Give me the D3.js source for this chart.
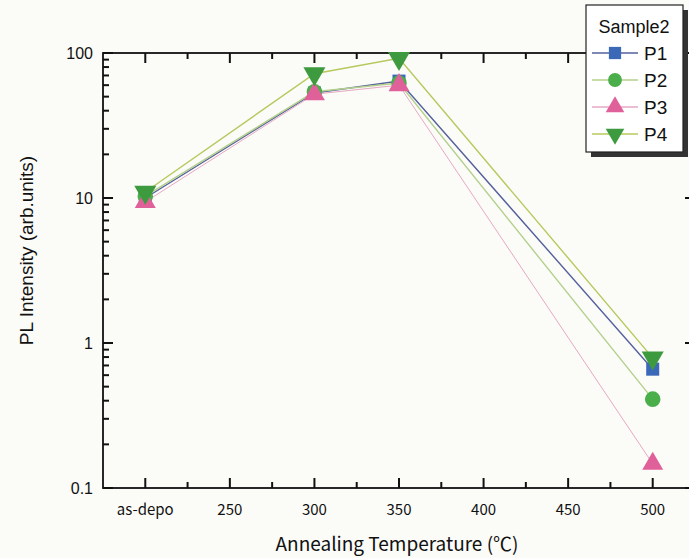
<!DOCTYPE html>
<html>
<head>
<meta charset="utf-8">
<script src="https://cdn.jsdelivr.net/npm/d3@7/dist/d3.min.js"></script>
<style>
  body { margin: 0; background: #fbfbf8; }
  svg { display: block; font-family: "Liberation Sans", Arial, sans-serif; }
</style>
</head>
<body>
<div id="chart"></div>
<script>
var W = 689, H = 558;
var margin = { top: 53, right: -6, bottom: 70, left: 103 };
var width = W - margin.left - margin.right;
var height = H - margin.top - margin.bottom;

// temperatures (as-depo drawn at 200)
var temps = [200, 300, 350, 500];
var xTickValues = [200, 250, 300, 350, 400, 450, 500];
var xTickLabels = ['as-depo', '250', '300', '350', '400', '450', '500'];
var xMinorValues = [225, 275, 325, 375, 425, 475];
var yTickValues = [0.1, 1, 10, 100];
var yMinorValues = [0.2, 0.3, 0.4, 0.5, 0.6, 0.7, 0.8, 0.9,
                    2, 3, 4, 5, 6, 7, 8, 9,
                    20, 30, 40, 50, 60, 70, 80, 90];

var seriesNames = ['P1', 'P2', 'P3', 'P4'];
var p1 = [10, 53, 64, 0.66];
var p2 = [10.3, 54, 62, 0.41];
var p3 = [9.4, 52, 60, 0.147];
var p4 = [11, 72, 92, 0.79];

var lineColors = ['#54609c', '#b4d08c', '#e6a8c4', '#b6c95c'];
var markColors = ['#3c68b8', '#4aae4a', '#e0609a', '#3e9a3e'];
var shapes = [d3.symbolSquare, d3.symbolCircle, d3.symbolTriangle, 'down'];

var root = d3.select('#chart')
  .append('svg')
    .attr('width', W)
    .attr('height', H);
var svg = root.append('g')
    .attr('transform', `translate(${margin.left}, ${margin.top})`);

var x = d3.scaleLinear().domain([175, 525]).range([0, width]);
var y = d3.scaleLog().domain([0.1, 100]).range([height, 0]);

var axisColor = '#111';

// inward ticks on all four sides
var ticks = [];
xTickValues.forEach(v => { ticks.push([x(v), height, x(v), height - 10]); ticks.push([x(v), 0, x(v), 10]); });
xMinorValues.forEach(v => { ticks.push([x(v), height, x(v), height - 6]); ticks.push([x(v), 0, x(v), 6]); });
yTickValues.forEach(v => { ticks.push([0, y(v), 10, y(v)]); ticks.push([width, y(v), width - 10, y(v)]); });
yMinorValues.forEach(v => { ticks.push([0, y(v), 6, y(v)]); ticks.push([width, y(v), width - 6, y(v)]); });

svg.selectAll('.tk').data(ticks).enter().append('line')
  .attr('class', 'tk')
  .attr('x1', d => d[0]).attr('y1', d => d[1])
  .attr('x2', d => d[2]).attr('y2', d => d[3])
  .style('stroke', '#111')
  .style('stroke-width', '2px');

// frame
svg.append('rect')
  .attr('width', width).attr('height', height)
  .attr('fill', 'none').attr('stroke', axisColor).attr('stroke-width', 1.8);

// tick labels
svg.selectAll('.xl').data(xTickValues).enter().append('text')
  .attr('class', 'xl')
  .attr('x', d => x(d)).attr('y', height + 27)
  .attr('text-anchor', 'middle').attr('font-size', 15).attr('fill', '#111')
  .attr('font-family', '"Noto Sans CJK JP", sans-serif')
  .text((d, i) => xTickLabels[i]);

svg.selectAll('.yl').data(yTickValues).enter().append('text')
  .attr('class', 'yl')
  .attr('x', -10).attr('y', d => y(d) + 6)
  .attr('text-anchor', 'end').attr('font-size', 16).attr('fill', '#111')
  .text(d => d);

// axis titles
svg.append('text')
  .attr('x', x(350) - 2).attr('y', height + 63)
  .attr('text-anchor', 'middle').attr('font-size', 19).attr('fill', '#111')
  .attr('font-family', '"Noto Sans CJK JP", sans-serif')
  .text('Annealing Temperature (℃)');

svg.append('text')
  .attr('transform', `translate(${-70}, ${height / 2 - 20}) rotate(-90)`)
  .attr('text-anchor', 'middle').attr('font-size', 19).attr('fill', '#111')
  .text('PL Intensity (arb.units)');

var allSeries = [p1, p2, p3, p4];

function symbolPath(i, size) {
  var t = shapes[i] === 'down' ? d3.symbolTriangle : shapes[i];
  return d3.symbol().type(t).size(size)();
}

var line = d3.line().x((d, i) => x(temps[i])).y(d => y(d));

allSeries.forEach(function (vals, i) {
  svg.append('path')
    .attr('d', line(vals))
    .attr('fill', 'none')
    .attr('stroke', lineColors[i])
    .attr('stroke-width', i === 2 ? 1 : 1.4);
});

var sizes = [170, 190, 190, 210];
allSeries.forEach(function (vals, i) {
  svg.selectAll('.m' + i).data(vals).enter().append('path')
    .attr('class', 'm' + i)
    .attr('d', symbolPath(i, sizes[i]))
    .attr('transform', (d, j) => `translate(${x(temps[j])}, ${y(d)})` + (shapes[i] === 'down' ? ' rotate(180)' : ''))
    .attr('fill', markColors[i]);
});

// legend
var lg = root.append('g').attr('transform', 'translate(586, 5)');
lg.append('rect').attr('x', 5).attr('y', 5).attr('width', 97).attr('height', 147).attr('fill', '#333');
lg.append('rect').attr('width', 97).attr('height', 147).attr('fill', '#fff').attr('stroke', '#222').attr('stroke-width', 1.2);
lg.append('text').attr('x', 48).attr('y', 28).attr('text-anchor', 'middle')
  .attr('font-size', 18).attr('fill', '#111').text('Sample2');
seriesNames.forEach(function (name, i) {
  var yy = 48 + i * 27;
  lg.append('line').attr('x1', 6).attr('x2', 52).attr('y1', yy).attr('y2', yy)
    .attr('stroke', lineColors[i]).attr('stroke-width', 1.4);
  lg.append('path').attr('d', symbolPath(i, 150))
    .attr('transform', `translate(29, ${yy})` + (shapes[i] === 'down' ? ' rotate(180)' : ''))
    .attr('fill', markColors[i]);
  lg.append('text').attr('x', 58).attr('y', yy + 7)
    .attr('font-size', 19).attr('fill', '#111').text(name);
});
</script>
</body>
</html>
